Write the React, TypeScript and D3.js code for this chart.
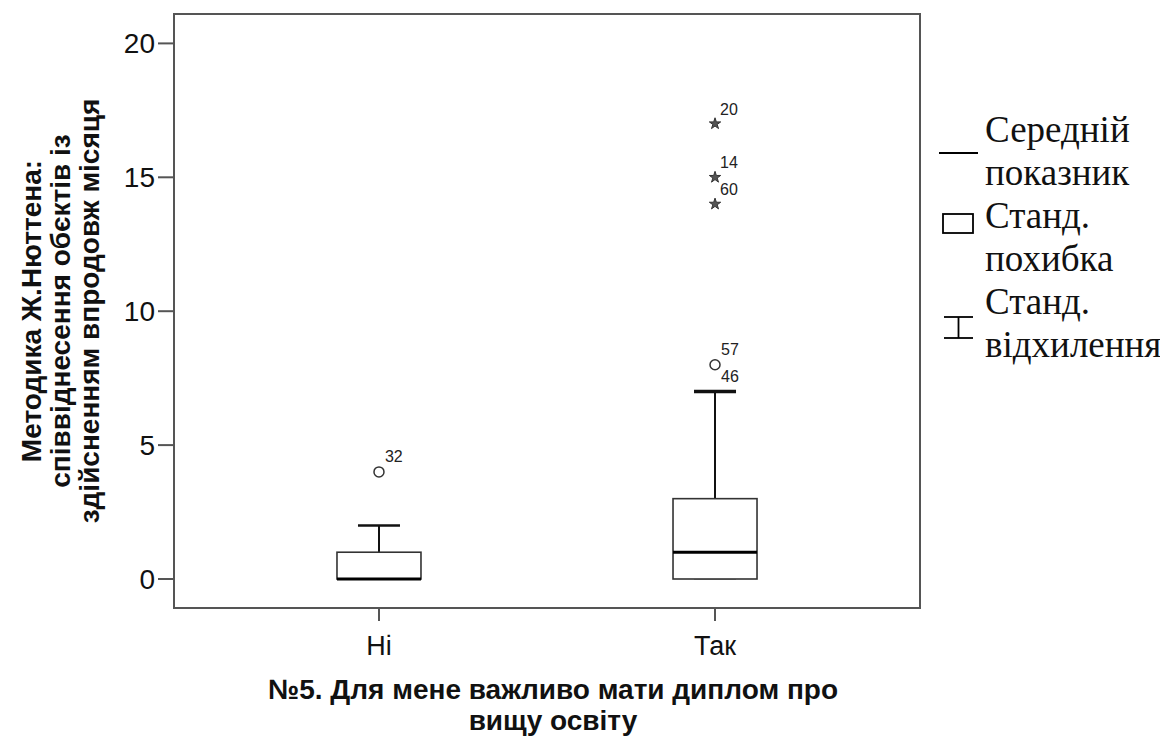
import React from "react";
import * as d3 from "d3";

const categories = ["Ні", "Так"];
const lowWhisker = [0, 0];
const q1 = [0, 0];
const median = [0, 1];
const q3 = [1, 3];
const highWhisker = [2, 7];

const circleOutliers = [
  { cat: "Ні", value: 4, label: "32", show: true },
  { cat: "Так", value: 8, label: "57", show: true },
  { cat: "Так", value: 7, label: "46", show: false },
];
const starOutliers = [
  { cat: "Так", value: 17, label: "20" },
  { cat: "Так", value: 15, label: "14" },
  { cat: "Так", value: 14, label: "60" },
];
const yTicks = [0, 5, 10, 15, 20];

const yTitleLines = [
  "Методика Ж.Нюттена:",
  "співвіднесення обєктів із",
  "здійсненням впродовж місяця",
];
const xTitleLines = ["№5. Для мене важливо мати диплом про", "вищу освіту"];
const legendItems = [
  { kind: "mean", lines: ["Середній", "показник"] },
  { kind: "box", lines: ["Станд.", "похибка"] },
  { kind: "err", lines: ["Станд.", "відхилення"] },
];

const W = 1160;
const H = 744;
const frame = { left: 174, right: 920, top: 14, bottom: 608 };
const sans = "'Liberation Sans', Arial, sans-serif";
const serif = "'Liberation Serif', 'Times New Roman', serif";

export default function App() {
  const y = d3.scaleLinear().domain([0, 20]).range([579, 43.4]);
  const x = d3
    .scalePoint<string>()
    .domain(categories)
    .range([frame.left, frame.right])
    .padding(0.61);
  const boxW = 84;
  const capW = 42;
  const starPath = d3.symbol().type(d3.symbolStar).size(40)() as string;
  const stroke = "#333";

  return (
    <div style={{ position: "absolute", left: 0, top: 0 }}>
      <svg width={W} height={H} style={{ display: "block", background: "#fff" }}>
        {/* frame */}
        <rect
          x={frame.left}
          y={frame.top}
          width={frame.right - frame.left}
          height={frame.bottom - frame.top}
          fill="none"
          stroke="#555"
          strokeWidth={2}
        />
        {/* y ticks */}
        {yTicks.map((t) => (
          <g key={t}>
            <line x1={frame.left - 16} x2={frame.left} y1={y(t)} y2={y(t)} stroke="#555" strokeWidth={2} />
            <text
              x={frame.left - 19}
              y={y(t)}
              dy="0.36em"
              textAnchor="end"
              fontFamily={sans}
              fontSize={28}
              fill="#111"
            >
              {t}
            </text>
          </g>
        ))}
        {/* x ticks */}
        {categories.map((c) => (
          <g key={c}>
            <line x1={x(c)} x2={x(c)} y1={frame.bottom} y2={frame.bottom + 13} stroke="#555" strokeWidth={2} />
            <text x={x(c)} y={655} textAnchor="middle" fontFamily={sans} fontSize={27} fill="#111">
              {c}
            </text>
          </g>
        ))}
        {/* boxes */}
        {categories.map((c, i) => {
          const cx = x(c) as number;
          return (
            <g key={c}>
              <line x1={cx} x2={cx} y1={y(q3[i])} y2={y(highWhisker[i])} stroke="#111" strokeWidth={2} />
              <line
                x1={cx - capW / 2}
                x2={cx + capW / 2}
                y1={y(highWhisker[i])}
                y2={y(highWhisker[i])}
                stroke="#111"
                strokeWidth={i === 1 ? 3.5 : 2.5}
              />
              <line x1={cx} x2={cx} y1={y(q1[i])} y2={y(lowWhisker[i])} stroke="#111" strokeWidth={2} />
              <line
                x1={cx - capW / 2}
                x2={cx + capW / 2}
                y1={y(lowWhisker[i])}
                y2={y(lowWhisker[i])}
                stroke="#999"
                strokeWidth={1.5}
              />
              <rect
                x={cx - boxW / 2}
                y={y(q3[i])}
                width={boxW}
                height={y(q1[i]) - y(q3[i])}
                fill="#fff"
                stroke={stroke}
                strokeWidth={1.6}
              />
              <line
                x1={cx - boxW / 2}
                x2={cx + boxW / 2}
                y1={y(median[i])}
                y2={y(median[i])}
                stroke="#000"
                strokeWidth={3}
              />
            </g>
          );
        })}
        {/* circle outliers */}
        {circleOutliers.map((o) => {
          const cx = x(o.cat) as number;
          return (
            <g key={o.label}>
              {o.show && (
                <circle cx={cx} cy={y(o.value)} r={5} fill="none" stroke="#333" strokeWidth={1.5} />
              )}
              <text x={cx + 6} y={y(o.value) - 10} fontFamily={sans} fontSize={16} fill="#222">
                {o.label}
              </text>
            </g>
          );
        })}
        {/* star outliers */}
        {starOutliers.map((o) => {
          const cx = x(o.cat) as number;
          return (
            <g key={o.label}>
              <path
                d={starPath}
                transform={`translate(${cx},${y(o.value)})`}
                fill="#555"
                stroke="#333"
                strokeWidth={1}
              />
              <text x={cx + 5} y={y(o.value) - 9} fontFamily={sans} fontSize={16} fill="#222">
                {o.label}
              </text>
            </g>
          );
        })}
        {/* y title */}
        <g transform={`translate(0, 311) rotate(-90)`}>
          {yTitleLines.map((l, i) => (
            <text
              key={i}
              x={0}
              y={41 + i * 29}
              textAnchor="middle"
              fontFamily={sans}
              fontWeight="bold"
              fontSize={28}
              fill="#111"
            >
              {l}
            </text>
          ))}
        </g>
        {/* x title */}
        {xTitleLines.map((l, i) => (
          <text
            key={i}
            x={553}
            y={699 + i * 31}
            textAnchor="middle"
            fontFamily={sans}
            fontWeight="bold"
            fontSize={28}
            fill="#111"
          >
            {l}
          </text>
        ))}
        {/* legend */}
        {legendItems.map((it, i) => {
          const base = 142 + i * 86;
          return (
            <g key={i}>
              {it.kind === "mean" && (
                <line x1={939} x2={978} y1={153} y2={153} stroke="#000" strokeWidth={2} />
              )}
              {it.kind === "box" && (
                <rect x={943} y={214} width={30} height={19} fill="none" stroke="#000" strokeWidth={1.8} />
              )}
              {it.kind === "err" && (
                <g stroke="#000" strokeWidth={1.8}>
                  <line x1={944} x2={973} y1={317} y2={317} />
                  <line x1={958.5} x2={958.5} y1={317} y2={338} />
                  <line x1={944} x2={973} y1={338} y2={338} />
                </g>
              )}
              {it.lines.map((l, j) => (
                <text
                  key={j}
                  x={985}
                  y={base + j * 43}
                  fontFamily={serif}
                  fontSize={37}
                  fill="#111"
                >
                  {l}
                </text>
              ))}
            </g>
          );
        })}
      </svg>
    </div>
  );
}
